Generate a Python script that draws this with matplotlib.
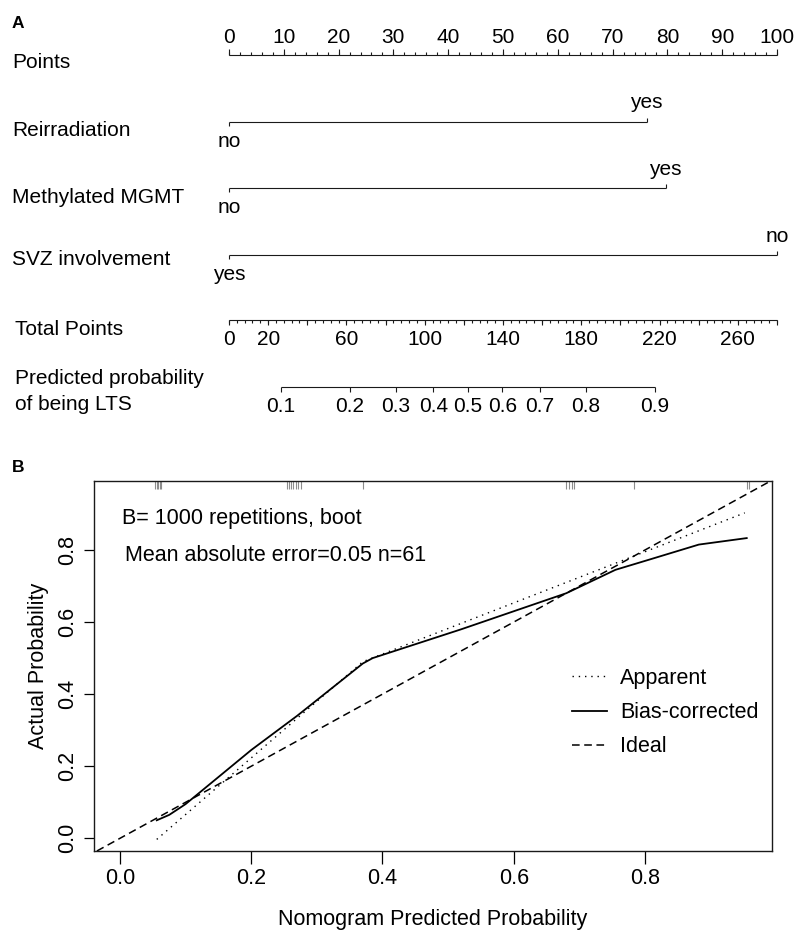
import numpy as np
import matplotlib
matplotlib.use("Agg")
import matplotlib.pyplot as plt
from matplotlib.ticker import FormatStrFormatter

plt.rcParams['font.family'] = ['Liberation Sans', 'DejaVu Sans']

# ---------------- data: nomogram (panel A) ----------------
points_ticks = list(range(0, 101, 10))
points_minor_step = 2
variable_names = ["Reirradiation", "Methylated MGMT", "SVZ involvement"]
variable_levels = [["no", "yes"], ["no", "yes"], ["yes", "no"]]
variable_points = [[0, 76.2], [0, 79.7], [0, 100]]
total_points_max = 280
total_major_step = 20
total_minor_step = 4
total_points_labels = [0, 20, 60, 100, 140, 180, 220, 260]
prob_ticks = [0.1, 0.2, 0.3, 0.4, 0.5, 0.6, 0.7, 0.8, 0.9]
total_at_logit0 = 122.1      # total points where predicted probability = 0.5
total_per_logit = 43.49      # total points per unit of log-odds

# ---------------- data: calibration (panel B) ----------------
apparent_pred = [0.056, 0.370, 0.952]
apparent_obs = [-0.003, 0.490, 0.903]
bias_pred = [0.056, 0.075, 0.10, 0.20, 0.27, 0.37, 0.385, 0.52, 0.68, 0.755, 0.806, 0.882, 0.955]
bias_obs = [0.050, 0.065, 0.095, 0.245, 0.340, 0.485, 0.500, 0.580, 0.680, 0.745, 0.773, 0.815, 0.833]
rug_pred = [0.053, 0.056, 0.058, 0.061, 0.063,
            0.255, 0.258, 0.261, 0.264, 0.268, 0.272, 0.276,
            0.370,
            0.680, 0.684, 0.688, 0.692,
            0.783,
            0.955, 0.959]
x_ticks_b = [0.0, 0.2, 0.4, 0.6, 0.8]
y_ticks_b = [0.0, 0.2, 0.4, 0.6, 0.8]
legend_labels = ["Apparent", "Bias-corrected", "Ideal"]
text_b1 = "B= 1000 repetitions, boot"
text_b2 = "Mean absolute error=0.05 n=61"

# ---------------- figure ----------------
W, H = 796, 931
fig = plt.figure(figsize=(W / 100, H / 100), dpi=100)

# Panel A: an invisible axes covering the figure; x in "Points", y in pixel rows
PX0 = 229.0
PX_PER_PT = 5.48
def px2pts(px):
    return (px - PX0) / PX_PER_PT

ax_a = fig.add_axes([0, 0, 1, 1])
ax_a.set_xlim(px2pts(0), px2pts(W))
ax_a.set_ylim(H, 0)
ax_a.axis('off')

FS_A = 15
LC = '#1a1a1a'
LW = 0.8
label_x = px2pts(12)

# Points axis
y_pts = 55
ax_a.hlines(y_pts, points_ticks[0], points_ticks[-1], color=LC, lw=LW)
minor = np.arange(points_ticks[0], points_ticks[-1] + 0.01, points_minor_step)
ax_a.vlines(minor, y_pts - 3, y_pts, color=LC, lw=LW)
ax_a.vlines(points_ticks, y_pts - 6, y_pts, color=LC, lw=LW)
for t in points_ticks:
    ax_a.text(t, 42.7, str(t), ha='center', va='baseline', fontsize=FS_A)
ax_a.text(label_x, 68.3, "Points", ha='left', va='baseline', fontsize=FS_A)

# Variables
var_rows = [121.7, 188.3, 255.0]
name_baselines = [136.0, 202.7, 265.0]
for name, levs, pts, yr, yb in zip(variable_names, variable_levels, variable_points, var_rows, name_baselines):
    ax_a.text(label_x, yb, name, ha='left', va='baseline', fontsize=FS_A)
    ax_a.hlines(yr, min(pts), max(pts), color=LC, lw=LW)
    for k, (lev, p) in enumerate(zip(levs, pts)):
        if k == 0:
            ax_a.vlines(p, yr, yr + 4, color=LC, lw=LW)
            ax_a.text(p, yr + 25, lev, ha='center', va='baseline', fontsize=FS_A)
        else:
            ax_a.vlines(p, yr - 4, yr, color=LC, lw=LW)
            ax_a.text(p, yr - 13.5, lev, ha='center', va='baseline', fontsize=FS_A)

# Total points axis
tot_scale = points_ticks[-1] / total_points_max
y_tot = 320
ax_a.hlines(y_tot, 0, total_points_max * tot_scale, color=LC, lw=LW)
tmin = np.arange(0, total_points_max + 0.01, total_minor_step) * tot_scale
tmaj = np.arange(0, total_points_max + 0.01, total_major_step) * tot_scale
ax_a.vlines(tmin, y_tot, y_tot + 3, color=LC, lw=LW)
ax_a.vlines(tmaj, y_tot, y_tot + 5, color=LC, lw=LW)
for t in total_points_labels:
    ax_a.text(t * tot_scale, 345, str(t), ha='center', va='baseline', fontsize=FS_A)
ax_a.text(px2pts(15), 335, "Total Points", ha='left', va='baseline', fontsize=FS_A)

# Predicted probability axis
def prob_to_total(p):
    p = np.asarray(p)
    return total_at_logit0 + total_per_logit * np.log(p / (1 - p))

y_prob = 387.3
pt_pos = prob_to_total(prob_ticks) * tot_scale
ax_a.hlines(y_prob, pt_pos[0], pt_pos[-1], color=LC, lw=LW)
ax_a.vlines(pt_pos, y_prob, y_prob + 5, color=LC, lw=LW)
for p, x in zip(prob_ticks, pt_pos):
    ax_a.text(x, 411.7, f"{p:.1f}", ha='center', va='baseline', fontsize=FS_A)
ax_a.text(px2pts(15), 384, "Predicted probability", ha='left', va='baseline', fontsize=FS_A)
ax_a.text(px2pts(15), 410, "of being LTS", ha='left', va='baseline', fontsize=FS_A)

# Panel letters
fig.text(12 / W, 1 - 28 / H, "A", fontsize=12.5, fontweight='bold', ha='left', va='baseline')
fig.text(12 / W, 1 - 472 / H, "B", fontsize=12.5, fontweight='bold', ha='left', va='baseline')

# ---------------- Panel B ----------------
L, R, T, B = 94, 772, 481, 851
ax_b = fig.add_axes([L / W, 1 - B / H, (R - L) / W, (B - T) / H])
ax_b.set_xlim(-0.0396, 0.9935)
ax_b.set_ylim(-0.0352, 0.9914)
FS_B = 15.5

h1, = ax_b.plot(apparent_pred, apparent_obs, color='black', lw=1.0, ls=(0, (1, 3.5)))
h2, = ax_b.plot(bias_pred, bias_obs, color='black', lw=1.3, ls='-')
h3 = ax_b.axline((0, 0), slope=1, color='black', lw=1.1, ls=(0, (5, 3)))
ax_b.vlines(rug_pred, 1 - 8 / (B - T), 1, transform=ax_b.get_xaxis_transform(),
            color='#8c8c8c', lw=0.8)

ax_b.set_xticks(x_ticks_b)
ax_b.set_yticks(y_ticks_b)
ax_b.xaxis.set_major_formatter(FormatStrFormatter('%.1f'))
ax_b.yaxis.set_major_formatter(FormatStrFormatter('%.1f'))
ax_b.tick_params(axis='x', direction='out', length=9, width=0.9, labelsize=FS_B, pad=3)
ax_b.tick_params(axis='y', direction='out', length=7, width=0.9, labelsize=FS_B, pad=4.5,
                 labelrotation=90)
for lab in ax_b.get_yticklabels():
    lab.set_va('center')
for sp in ax_b.spines.values():
    sp.set_linewidth(1.0)
    sp.set_color('#1a1a1a')

ax_b.set_xlabel("Nomogram Predicted Probability", fontsize=FS_B)
ax_b.set_ylabel("Actual Probability", fontsize=FS_B)
ax_b.xaxis.set_label_coords(0.5, (B - 920) / (B - T))
ax_b.xaxis.label.set_va('center')
ax_b.yaxis.set_label_coords((39 - L) / (R - L), 0.5)
ax_b.yaxis.label.set_va('center')

ax_b.text((122 - L) / (R - L), (B - 524) / (B - T), text_b1, transform=ax_b.transAxes,
          ha='left', va='baseline', fontsize=FS_B)
ax_b.text((125 - L) / (R - L), (B - 560.7) / (B - T), text_b2, transform=ax_b.transAxes,
          ha='left', va='baseline', fontsize=FS_B)

ax_b.legend([h1, h2, h3], legend_labels, loc='upper left',
            bbox_to_anchor=(571.7 / W, 1 - 668 / H), bbox_transform=fig.transFigure,
            frameon=False, fontsize=FS_B, borderpad=0, borderaxespad=0,
            handlelength=1.63, handletextpad=0.62, labelspacing=0.61)

fig.savefig("out.png", dpi=100)
